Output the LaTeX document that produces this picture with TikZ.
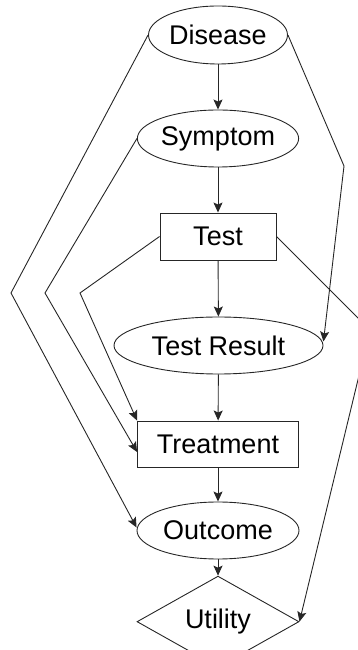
\documentclass[tikz,border=0pt]{standalone}
\usepackage{fontspec}
\setmainfont{Liberation Sans}
\usetikzlibrary{shapes.geometric,arrows.meta,calc}
\begin{document}
\begin{tikzpicture}[x=1pt,y=1pt,
  every node/.style={font=\fontsize{27}{31}\selectfont, inner sep=0pt, line width=0.9pt, draw=black!85},
  chance/.style={ellipse},
  decision/.style={rectangle},
  value/.style={diamond},
  edge/.style={line width=0.9pt, draw=black!85, -{Stealth[length=10pt,width=9pt,inset=2pt]}}]
  \useasboundingbox (0,0) rectangle (358,650);
  \clip (0,0) rectangle (358,650);
  % nodes (y measured upward from the bottom edge)
  \node[chance, minimum width=139pt, minimum height=58pt] (dis) at (218,615) {Disease};
  \node[chance, minimum width=139pt, minimum height=57pt] (sym) at (218,511.5) {Symptom};
  \node[decision, minimum width=116pt, minimum height=47pt] (test) at (218,413.5) {Test};
  \node[chance, minimum width=209pt, minimum height=57pt] (res) at (218.5,304.5) {Test Result};
  \node[decision, minimum width=161pt, minimum height=46pt] (treat) at (218,206) {Treatment};
  \node[chance, minimum width=162pt, minimum height=57pt] (out) at (218,119.5) {Outcome};
  \node[value, minimum width=162pt, minimum height=57pt] (util) at (218,28.3) {Utility};
  % bend points of the long connectors
  \coordinate (b1) at (11,357);
  \coordinate (b2) at (45,357);
  \coordinate (b3) at (80,357);
  \coordinate (b4) at (344,484);
  \coordinate (b5) at (370,320);
  % straight chain
  \draw[edge] (dis) -- (sym);
  \draw[edge] (sym) -- (test);
  \draw[edge] (test) -- (res);
  \draw[edge] (res) -- (treat);
  \draw[edge] (treat) -- (out);
  \draw[edge] (out) -- (util);
  % long connectors
  \draw[edge] (dis.west) -- (b1) -- ($(out.west)+(0,3)$);
  \draw[edge] (sym.west) -- (b2) -- ($(treat.west)+(0,-8)$);
  \draw[edge] (test.west) -- (b3) -- (treat.north west);
  \draw[edge] (dis.east) -- (b4) -- ($(res.east)+(0,4)$);
  \draw[edge] (test.east) -- (b5) -- (util.east);
\end{tikzpicture}
\end{document}
